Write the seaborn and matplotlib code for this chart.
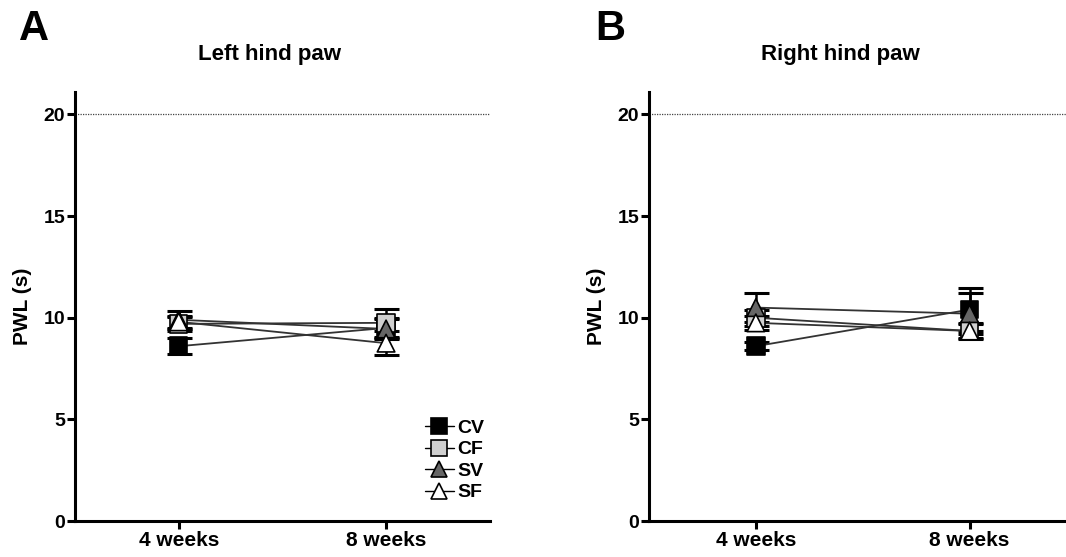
import numpy as np
import pandas as pd
import matplotlib
matplotlib.use('Agg')
import matplotlib.pyplot as plt
import seaborn as sns
from matplotlib.lines import Line2D

# Datos (media y error estandar)
weeks = ['4 weeks', '8 weeks']
groups = ['CV', 'CF', 'SV', 'SF']

left_mean = {'CV': [8.6, 9.5], 'CF': [9.7, 9.75], 'SV': [9.9, 9.45], 'SF': [9.8, 8.75]}
left_sem = {'CV': [0.4, 0.5], 'CF': [0.35, 0.7], 'SV': [0.45, 0.5], 'SF': [0.3, 0.6]}
right_mean = {'CV': [8.6, 10.4], 'CF': [10.0, 9.35], 'SV': [10.5, 10.2], 'SF': [9.75, 9.35]}
right_sem = {'CV': [0.2, 1.05], 'CF': [0.4, 0.35], 'SV': [0.7, 1.0], 'SF': [0.35, 0.4]}

face_colors = {'CV': 'black', 'CF': '#d0d0d0', 'SV': '#666666', 'SF': 'white'}
marker_shapes = {'CV': 's', 'CF': 's', 'SV': '^', 'SF': '^'}

sns.set_style('ticks', {'axes.edgecolor': 'black', 'text.color': 'black',
                        'xtick.color': 'black', 'ytick.color': 'black',
                        'axes.labelcolor': 'black'})
plt.rcParams['font.family'] = ['Liberation Sans', 'DejaVu Sans']
plt.rcParams['font.weight'] = 'bold'


def make_df(means, sems):
    rows = []
    for g in groups:
        for i, w in enumerate(weeks):
            rows.append({'group': g, 'week': w, 'pos': i, 'mean': means[g][i], 'sem': sems[g][i]})
    return pd.DataFrame(rows)


fig = plt.figure(figsize=(10.66, 5.57), dpi=100)
ax1 = fig.add_axes([0.0704, 0.0646, 0.389, 0.770])
ax2 = fig.add_axes([0.6088, 0.0646, 0.391, 0.770])

panels = [(ax1, make_df(left_mean, left_sem), 'Left hind paw', 'A', 0.253, 0.018, (-0.5, 1.5)),
          (ax2, make_df(right_mean, right_sem), 'Right hind paw', 'B', 0.788, 0.558, (-0.5, 1.45))]

for ax, df, title, letter, tx, lx, xlim in panels:
    ax.axhline(20, color='#444444', lw=0.9, ls=(0, (1, 1)), zorder=1)
    # barras de error
    for g in groups:
        d = df[df['group'] == g]
        ax.errorbar(d['pos'], d['mean'], yerr=d['sem'], fmt='none', ecolor='black',
                    elinewidth=1.8, capsize=9, capthick=2.2, zorder=2)
    # lineas que unen los puntos
    sns.lineplot(data=df, x='pos', y='mean', units='group', estimator=None,
                 color='#333333', lw=1.3, ax=ax, zorder=3, legend=False)
    # marcadores
    sns.scatterplot(data=df, x='pos', y='mean', hue='group', style='group',
                    palette=face_colors, markers=marker_shapes, s=160,
                    edgecolor='black', linewidth=1.2, ax=ax, zorder=4, legend=False)

    ax.set_xlim(*xlim)
    ax.set_ylim(0, 21.1)
    ax.set_xticks(range(len(weeks)))
    ax.set_xticklabels(weeks, fontsize=15, fontweight='bold')
    ax.set_yticks([0, 5, 10, 15, 20])
    ax.set_yticklabels(['0', '5', '10', '15', '20'], fontsize=14, fontweight='bold')
    ax.set_xlabel('')
    ax.set_ylabel('PWL (s)', fontsize=15, fontweight='bold', labelpad=8)
    for side in ['top', 'right']:
        ax.spines[side].set_visible(False)
    for side in ['left', 'bottom']:
        ax.spines[side].set_linewidth(2.2)
    ax.tick_params(axis='both', width=2.2, length=6, pad=1)
    fig.text(tx, 0.902, title, fontsize=16, fontweight='bold', ha='center', va='center')
    fig.text(lx, 0.948, letter, fontsize=30, fontweight='bold', ha='left', va='center')

handles = [Line2D([0], [0], color='black', lw=1, marker=marker_shapes[g], markersize=11,
                  markerfacecolor=face_colors[g], markeredgecolor='black', markeredgewidth=1.2)
           for g in groups]
ax1.legend(handles, groups, loc='lower right', bbox_to_anchor=(1.03, 0.005), frameon=False,
           handlelength=1.5, handletextpad=0.2, labelspacing=0.2,
           prop={'weight': 'bold', 'size': 14})

fig.savefig('out.png', dpi=100)
